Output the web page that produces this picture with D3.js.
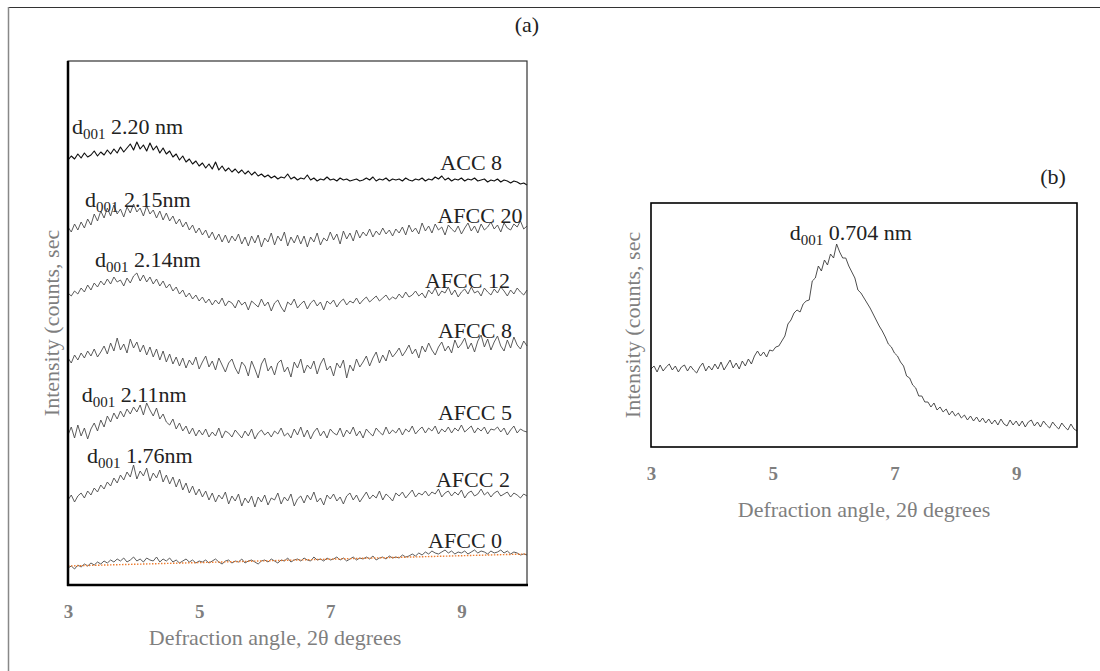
<!DOCTYPE html>
<html>
<head>
<meta charset="utf-8">
<script src="https://cdn.jsdelivr.net/npm/d3@7"></script>
<style>
  body { margin: 0; background: #fff; }
  svg { display: block; }
  svg text { font-family: "Liberation Serif", "Times New Roman", serif; }
</style>
</head>
<body>
<div id="chart"></div>
<script>
// scan: 3 to 10 degrees 2theta, step 0.05
let scanStart = 3, scanEnd = 10, scanStep = 0.05;
let angles = d3.range(0, 141).map(i => +(scanStart + i * scanStep).toFixed(2));

let tickVals = [3, 5, 7, 9];

// panel (a) series, stacked with an offset (arbitrary counts)
let seriesNames = ["ACC 8", "AFCC 20", "AFCC 12", "AFCC 8", "AFCC 5", "AFCC 2", "AFCC 0"];
let seriesOffsets = [405, 347, 285, 225, 152, 87, 25];

let acc8 = [20,24,21,26,22,27,23,25,29,24,28,
  25,30,26,31,27,33,28,32,36,30,
  38,31,35,29,37,30,34,27,32,26,
  29,23,26,20,24,18,21,16,19,14,
  17,12,16,11,18,10,14,9,12,8,
  11,7,10,6,9,5,8,4,6,3,
  5,2,4,1,3,2,6,1,3,0,
  2,1,5,0,2,-1,1,0,3,0,
  1,-1,2,0,1,-1,0,1,-1,0,
  2,0,3,-1,1,0,2,-1,1,0,
  1,-1,2,0,-1,1,0,2,-1,1,
  0,3,1,4,0,2,-1,1,0,2,
  -1,1,0,2,-1,0,1,-2,0,-1,
  1,-2,0,-1,-3,-1,-2,-4,-3,-5];

let afcc20 = [11,6,14,8,16,10,19,13,24,17,27,
  20,30,22,33,24,29,21,31,25,34,
  26,30,22,32,24,28,20,27,18,25,
  17,22,14,19,11,16,8,13,5,10,
  3,8,0,6,-2,4,-4,3,-5,2,
  -3,4,-6,1,-8,2,-5,3,-9,0,
  -4,5,-7,2,-3,6,-8,1,-5,3,
  -6,2,-9,1,-4,5,-7,0,-3,6,
  -2,4,-6,7,-1,5,-3,8,0,6,
  2,9,1,7,3,10,4,8,2,9,
  5,11,3,13,6,10,4,15,7,12,
  5,14,8,11,3,13,9,6,12,4,
  10,15,7,12,5,14,8,11,16,9,
  13,6,15,10,8,14,11,17,9,12];

let afcc12 = [7,4,9,6,12,8,15,10,17,13,19,
  15,21,16,23,18,20,14,22,17,24,
  27,19,25,18,23,16,21,14,19,12,
  16,9,13,6,10,3,7,1,5,-1,
  3,-3,1,-5,0,-4,2,-6,-1,-3,
  -8,0,-5,-2,-10,-1,-4,-7,1,-6,
  -2,-11,-3,0,-7,-12,-2,-5,1,-8,
  -4,-1,-9,-3,0,-6,-2,-10,-1,-4,
  0,-7,-2,1,-5,-1,-3,2,-4,0,
  3,-2,1,4,-1,2,5,0,3,1,
  6,2,8,3,5,9,4,7,2,10,
  6,12,4,9,7,13,5,10,3,8,
  11,6,13,7,9,4,12,8,5,11,
  7,13,9,4,10,6,12,8,5,10];

let afcc8 = [2,-3,5,0,7,2,9,4,11,3,8,
  14,6,17,9,22,10,16,7,21,12,
  18,8,15,5,13,3,11,0,9,-2,
  6,-4,3,-6,2,-8,0,-5,3,-9,
  -2,4,-7,-1,-10,2,-5,-12,-3,1,
  -8,-14,-2,-6,-16,-1,-9,-18,-4,2,
  -11,-6,-15,-3,0,-12,-7,-17,-2,-8,
  1,-13,-5,-9,-1,-14,-4,2,-10,-6,
  -16,-3,-8,0,-18,-5,-11,1,-7,-2,
  4,-6,2,8,-3,5,-1,10,3,7,
  12,4,9,15,6,11,2,14,8,17,
  10,5,13,18,9,14,7,20,12,16,
  22,11,17,8,19,25,13,21,10,18,
  24,14,9,20,12,23,15,11,19,14];

let afcc5 = [-2,6,-5,8,-3,5,-6,4,10,2,13,
  6,17,11,20,14,22,16,24,19,26,
  21,28,18,30,23,17,25,14,19,11,
  8,14,4,10,2,7,-1,5,-3,3,
  -2,4,-4,1,-3,5,-5,2,0,-4,
  3,-1,-5,2,-3,4,-6,0,3,-2,
  1,-4,2,-1,5,-3,0,-5,4,-2,
  6,-4,3,-6,1,5,-3,2,-5,4,
  0,-2,5,-4,3,-1,6,-3,2,-5,
  4,0,-3,5,1,-2,6,-1,3,0,
  5,-2,4,1,7,-1,3,6,0,5,
  2,7,-1,4,1,6,0,5,2,8,
  1,4,7,0,5,2,6,-1,4,3,
  6,1,5,-2,3,7,0,4,2,1];

let afcc2 = [-2,3,-4,2,5,0,7,3,10,6,13,
  9,16,12,20,15,23,18,26,21,33,
  19,27,22,30,17,25,20,28,16,23,
  14,21,11,19,8,15,5,12,3,9,
  1,7,-2,5,-4,3,-1,6,-6,2,
  -3,4,-8,0,-5,2,-9,1,-4,3,
  -7,0,-2,5,-6,1,-3,4,-8,-1,
  2,-5,3,-2,6,-4,0,-7,3,-1,
  4,-3,1,-6,2,5,-2,3,-4,1,
  6,-1,3,0,7,-2,4,1,-3,5,
  2,6,0,4,8,1,5,3,7,2,
  6,4,9,1,5,7,2,6,3,8,
  0,5,7,2,4,9,3,6,1,5,
  7,2,4,6,1,5,3,0,4,2];

let afcc0 = [-8,-6,-9,-5,-7,-4,-6,-3,-5,-2,-4,
  -1,-3,0,-2,1,-1,2,-2,0,3,
  -1,1,-2,2,0,-1,3,-2,1,-1,
  2,-2,0,-3,-1,1,-2,0,-3,-1,
  -2,0,-3,-1,1,-2,-4,-1,0,-3,
  -1,-2,1,-3,-1,0,-2,-4,-1,0,
  -2,1,-1,-3,0,-1,2,-2,0,1,
  -1,2,0,-1,3,0,1,-1,2,0,
  1,3,0,2,-1,1,3,0,2,1,
  3,1,4,0,2,3,1,4,2,3,
  2,5,3,4,6,4,7,5,8,6,
  9,7,6,8,10,7,9,6,8,7,
  9,6,8,10,7,9,8,6,9,7,
  8,10,7,9,6,8,7,5,6,5];

// linear trend fitted to AFCC 0 (relative to its offset)
let trendX = [3, 10];
let trendY = [-6, 6];

// label anchors [angle, counts] for series names and d001 notes
let seriesLabelAt = [[9.62, 415], [9.93, 362], [9.74, 297], [9.77, 247], [9.77, 165], [9.74, 98], [9.62, 37]];
let dNotes = [
  {at: [3.06, 451], d: "2.20 nm"},
  {at: [3.26, 378], d: "2.15nm"},
  {at: [3.41, 318], d: "2.14nm"},
  {at: [3.21, 183], d: "2.11nm"},
  {at: [3.29, 122], d: "1.76nm"}
];

// panel (b)
let kaolin = [78,81,75,82,76,80,83,77,81,75,80,
  82,76,81,77,74,80,84,76,81,77,
  83,78,85,77,82,87,79,84,78,86,
  81,88,83,91,96,91,95,90,97,96,
  100,101,106,111,123,127,134,137,135,143,
  146,147,166,169,181,176,187,182,193,189,
  203,195,189,189,181,175,169,157,154,149,
  144,139,133,127,121,116,110,103,100,94,
  91,85,81,71,69,62,59,51,51,45,
  45,40,44,37,40,35,38,32,36,31,
  34,29,32,27,31,26,30,25,29,24,
  28,23,27,22,28,23,21,27,22,26,
  21,26,20,25,27,21,25,20,26,22,
  19,25,21,18,24,20,17,23,18,16];
let kaolinNote = {at: [5.28, 207], d: "0.704 nm"};

let seriesValues = [acc8, afcc20, afcc12, afcc8, afcc5, afcc2, afcc0];

let gray = "#7f7f7f";
let serif = "Liberation Serif";
let W = 1100, H = 671;

let svg = d3.select("#chart").append("svg")
    .attr("width", W)
    .attr("height", H);

// outer frame (top and left visible)
svg.append("line").attr("x1", 8).attr("x2", W).attr("y1", 7.5).attr("y2", 7.5)
    .attr("stroke", "#333").attr("stroke-width", 1.2);
svg.append("line").attr("x1", 8.5).attr("x2", 8.5).attr("y1", 7).attr("y2", H)
    .attr("stroke", "#888").attr("stroke-width", 1.5);

// ---------- panel (a)
let A = {left: 68, right: 527, top: 61, bottom: 585};
let xA = d3.scaleLinear().domain([scanStart, scanEnd]).range([A.left, A.right]);
let yA = d3.scaleLinear().domain([0, 524]).range([A.bottom, A.top]);

let lineA = d3.line()
    .x(d => xA(d[0]))
    .y(d => yA(d[1]));

seriesValues.forEach((vals, k) => {
    let pts = vals.map((v, i) => [angles[i], v + seriesOffsets[k]]);
    svg.append("path")
        .datum(pts)
        .attr("fill", "none")
        .attr("stroke", k === 0 ? "#111" : "#4a4a4a")
        .attr("stroke-width", k === 0 ? 1.15 : 0.9)
        .attr("stroke-linejoin", "round")
        .attr("d", lineA);
});

// AFCC 0 trend
svg.append("path")
    .datum(trendX.map((x, i) => [x, trendY[i] + seriesOffsets[6]]))
    .attr("fill", "none")
    .attr("stroke", "#ed7d31")
    .attr("stroke-width", 1.4)
    .attr("stroke-dasharray", "1.5,1.5")
    .attr("d", lineA);

// frame of (a)
svg.append("rect")
    .attr("x", A.left).attr("y", A.top)
    .attr("width", A.right - A.left).attr("height", A.bottom - A.top)
    .attr("fill", "none").attr("stroke", "#333").attr("stroke-width", 1.2);
svg.append("line").attr("x1", A.left).attr("x2", A.left).attr("y1", A.top).attr("y2", A.bottom + 1)
    .attr("stroke", "#000").attr("stroke-width", 2.5);
svg.append("line").attr("x1", A.left - 1).attr("x2", A.right + 1).attr("y1", A.bottom).attr("y2", A.bottom)
    .attr("stroke", "#000").attr("stroke-width", 2.5);

svg.selectAll("text.slabel")
    .data(seriesNames)
    .enter().append("text")
    .attr("class", "slabel")
    .attr("x", (d, i) => xA(seriesLabelAt[i][0]))
    .attr("y", (d, i) => yA(seriesLabelAt[i][1]))
    .attr("text-anchor", "end")
    .attr("font-family", serif)
    .attr("font-size", 22)
    .attr("fill", "#222")
    .text(d => d);

function dNote(x, y, val) {
    let t = svg.append("text")
        .attr("x", x).attr("y", y)
        .attr("font-family", serif)
        .attr("font-size", 22)
        .attr("fill", "#222");
    t.append("tspan").text("d");
    t.append("tspan").attr("font-size", 15).attr("dy", 5).text("001");
    t.append("tspan").attr("dy", -5).text(" " + val);
}
dNotes.forEach(n => dNote(xA(n.at[0]), yA(n.at[1]), n.d));

function xAxis(scale, y) {
    svg.append("g")
        .attr("transform", "translate(0," + y + ")")
        .call(d3.axisBottom(scale).tickValues(tickVals).tickFormat(d3.format("d"))
            .tickSize(0).tickPadding(20))
        .call(g => g.select(".domain").remove())
        .selectAll("text")
        .attr("font-family", serif)
        .attr("font-size", 19)
        .attr("font-weight", "bold")
        .attr("fill", gray);
}
xAxis(xA, A.bottom);

svg.append("text")
    .attr("x", 275).attr("y", 645)
    .attr("text-anchor", "middle")
    .attr("font-family", serif)
    .attr("font-size", 22)
    .attr("fill", gray)
    .text("Defraction angle, 2θ degrees");

svg.append("text")
    .attr("transform", "translate(59," + ((A.top + A.bottom) / 2) + ") rotate(-90)")
    .attr("text-anchor", "middle")
    .attr("font-family", serif)
    .attr("font-size", 22)
    .attr("fill", gray)
    .text("Intensity (counts, sec");

svg.append("text")
    .attr("x", 527).attr("y", 32)
    .attr("text-anchor", "middle")
    .attr("font-family", serif)
    .attr("font-size", 22)
    .attr("fill", "#222")
    .text("(a)");

// ---------- panel (b)
let B = {left: 651, right: 1077, top: 203, bottom: 447};
let xB = d3.scaleLinear().domain([scanStart, scanEnd]).range([B.left, B.right]);
let yB = d3.scaleLinear().domain([0, 244]).range([B.bottom, B.top]);

svg.append("path")
    .datum(kaolin.map((v, i) => [angles[i], v]))
    .attr("fill", "none")
    .attr("stroke", "#3a3a3a")
    .attr("stroke-width", 0.9)
    .attr("d", d3.line().x(d => xB(d[0])).y(d => yB(d[1])));

svg.append("rect")
    .attr("x", B.left).attr("y", B.top)
    .attr("width", B.right - B.left).attr("height", B.bottom - B.top)
    .attr("fill", "none").attr("stroke", "#000").attr("stroke-width", 1.6);

dNote(xB(kaolinNote.at[0]), yB(kaolinNote.at[1]), kaolinNote.d);

xAxis(xB, B.bottom);

svg.append("text")
    .attr("x", (B.left + B.right) / 2).attr("y", 517)
    .attr("text-anchor", "middle")
    .attr("font-family", serif)
    .attr("font-size", 22)
    .attr("fill", gray)
    .text("Defraction angle, 2θ degrees");

svg.append("text")
    .attr("transform", "translate(640," + ((B.top + B.bottom) / 2) + ") rotate(-90)")
    .attr("text-anchor", "middle")
    .attr("font-family", serif)
    .attr("font-size", 22)
    .attr("fill", gray)
    .text("Intensity (counts, sec");

svg.append("text")
    .attr("x", 1053).attr("y", 184)
    .attr("text-anchor", "middle")
    .attr("font-family", serif)
    .attr("font-size", 22)
    .attr("fill", "#222")
    .text("(b)");
</script>
</body>
</html>
